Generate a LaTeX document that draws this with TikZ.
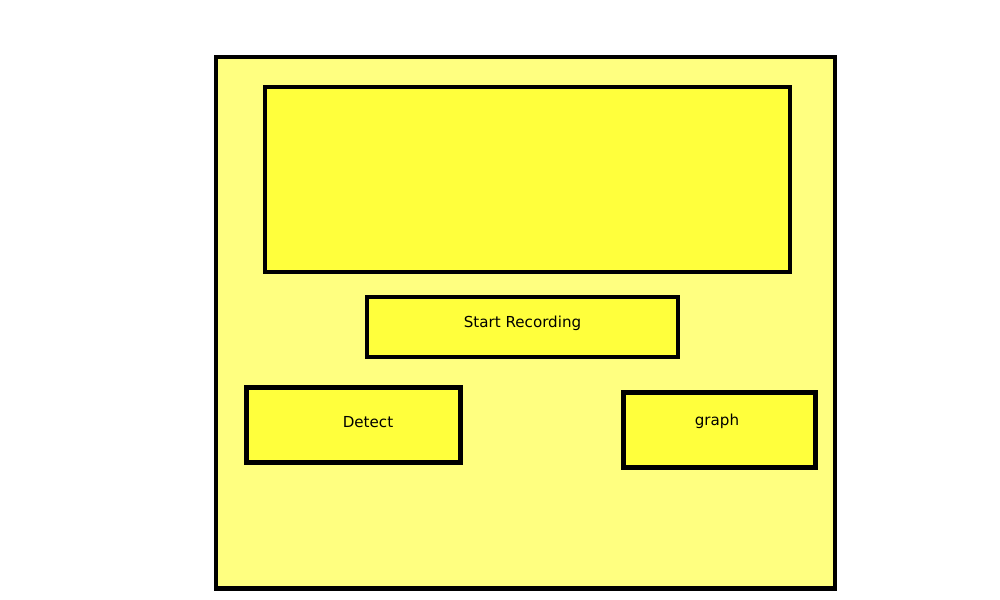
\documentclass[tikz,border=0pt]{standalone}
\usepackage{fontspec}
\setmainfont{DejaVu Sans}
\usepackage{tikz}
\usetikzlibrary{calc}

\definecolor{fondpale}{HTML}{FFFF80}
\definecolor{fondvif}{HTML}{FFFF3C}

\tikzset{
  cadre/.style={line width=0.045cm, draw=black, fill=fondvif},
  libelle/.style={font=\fontsize{4.3pt}{5pt}\selectfont, anchor=base, inner sep=0pt}
}

\begin{document}
\begin{tikzpicture}[x=0.01cm, y=-0.01cm]
      \useasboundingbox (0,0) rectangle (1000,600);

      % FENETRE
      \coordinate (W1) at (216,57);
      \coordinate (W2) at (835,588.5);

      % ZONE ECRAN
      \coordinate (S1) at (265,87);
      \coordinate (S2) at (790,272);

      % BOUTONS
      \coordinate (R1) at (367,297);
      \coordinate (R2) at (678,357);
      \coordinate (D1) at (246.5,387.5);
      \coordinate (D2) at (460.5,462.5);
      \coordinate (G1) at (623.5,392.5);
      \coordinate (G2) at (815.5,467.5);

      % ARMATURE
      \draw[cadre, fill=fondpale] (W1) rectangle (W2);
      \draw[cadre] (S1) rectangle (S2);
      \draw[cadre] (R1) rectangle (R2);
      \draw[cadre] (D1) rectangle (D2);
      \draw[cadre] (G1) rectangle (G2);

      % TEXTES
      \node[libelle] (record) at (522.5,327) {Start Recording};
      \node[libelle] (detect) at (368,427) {Detect};
      \node[libelle] (graph) at (717,425.5) {graph};
\end{tikzpicture}
\end{document}
